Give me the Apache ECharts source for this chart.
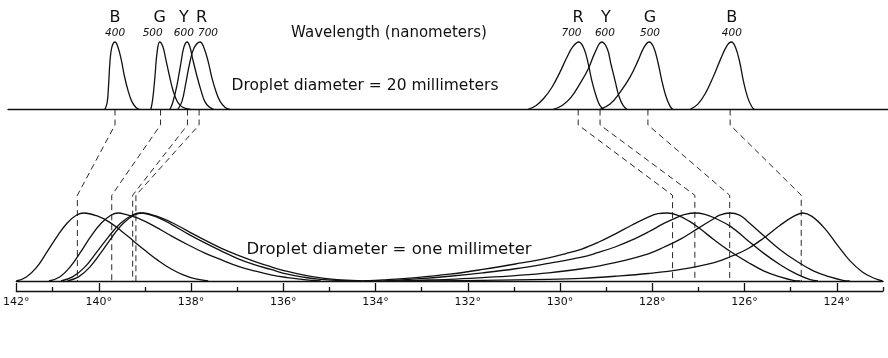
<!DOCTYPE html>
<html><head><meta charset="utf-8">
<script src="https://cdn.jsdelivr.net/npm/echarts@6/dist/echarts.min.js"></script>
<style>html,body{margin:0;padding:0;background:#fff}#c{width:888px;height:358px}</style>
</head><body><div id="c"></div>
<script>
// ---------- DATA (scattering angle in degrees, relative intensity 0..1) ----------
// Droplet diameter = 20 mm, primary bow (left): B, G, Y, R
const d20Primary_B = [[139.75,0],[139.70,0.1],[139.67,0.35],[139.64,0.7],[139.60,0.92],[139.53,1],[139.47,0.93],[139.40,0.75],[139.33,0.5],[139.25,0.28],[139.17,0.12],[139.08,0.03],[139.00,0]];
const d20Primary_G = [[138.76,0],[138.72,0.15],[138.67,0.5],[138.63,0.82],[138.57,1],[138.50,0.93],[138.44,0.75],[138.36,0.5],[138.29,0.3],[138.20,0.13],[138.11,0.05],[138.01,0.015],[137.90,0]];
const d20Primary_Y = [[138.35,0],[138.29,0.1],[138.20,0.35],[138.11,0.7],[138.05,0.92],[137.98,1],[137.92,0.93],[137.86,0.75],[137.77,0.5],[137.68,0.28],[137.60,0.12],[137.51,0.04],[137.40,0]];
const d20Primary_R = [[138.18,0],[138.09,0.12],[138.01,0.38],[137.92,0.7],[137.83,0.91],[137.70,1],[137.62,0.92],[137.53,0.72],[137.45,0.48],[137.36,0.27],[137.27,0.12],[137.16,0.03],[137.06,0]];
// Droplet diameter = 20 mm, secondary bow (right): R, Y, G, B
const d20Secondary_R = [[130.65,0],[130.47,0.06],[130.30,0.17],[130.13,0.33],[129.96,0.55],[129.81,0.77],[129.68,0.93],[129.55,1],[129.44,0.9],[129.35,0.68],[129.27,0.42],[129.18,0.2],[129.10,0.06],[129.01,0]];
const d20Secondary_Y = [[130.11,0],[129.91,0.06],[129.72,0.18],[129.53,0.38],[129.35,0.6],[129.20,0.85],[129.06,1],[128.94,0.9],[128.86,0.67],[128.77,0.42],[128.69,0.2],[128.60,0.06],[128.51,0]];
const d20Secondary_G = [[129.10,0],[128.88,0.08],[128.67,0.25],[128.45,0.48],[128.28,0.72],[128.15,0.92],[128.04,1],[127.94,0.92],[127.85,0.7],[127.77,0.44],[127.68,0.2],[127.59,0.05],[127.53,0]];
const d20Secondary_B = [[127.16,0],[126.99,0.08],[126.82,0.25],[126.65,0.5],[126.50,0.75],[126.37,0.94],[126.27,1],[126.18,0.92],[126.09,0.7],[126.01,0.42],[125.92,0.18],[125.83,0.04],[125.77,0]];

// Droplet diameter = one millimeter, primary bow
const d1Primary_B = [[141.79,0],[141.57,0.06],[141.35,0.2],[141.13,0.42],[140.91,0.65],[140.69,0.85],[140.48,0.97],[140.32,1],[140.05,0.96],[139.78,0.87],[139.52,0.74],[139.25,0.59],[138.98,0.44],[138.71,0.3],[138.44,0.18],[138.17,0.09],[137.90,0.03],[137.63,0]];
const d1Primary_G = [[141.08,0],[140.85,0.06],[140.63,0.2],[140.40,0.42],[140.18,0.65],[139.95,0.85],[139.73,0.97],[139.58,1],[139.42,0.98],[139.14,0.92],[138.78,0.8],[138.42,0.66],[138.06,0.53],[137.70,0.41],[137.34,0.31],[136.99,0.22],[136.63,0.15],[136.27,0.09],[135.91,0.05],[135.55,0.02],[135.19,0]];
const d1Primary_Y = [[140.82,0],[140.57,0.06],[140.31,0.2],[140.05,0.42],[139.79,0.65],[139.53,0.85],[139.27,0.97],[139.10,1],[138.78,0.95],[138.42,0.83],[138.06,0.69],[137.70,0.56],[137.34,0.44],[136.99,0.33],[136.63,0.24],[136.27,0.17],[135.91,0.1],[135.55,0.055],[135.19,0.025],[134.84,0.01],[134.37,0]];
const d1Primary_R = [[140.68,0],[140.44,0.06],[140.20,0.2],[139.95,0.42],[139.71,0.65],[139.47,0.85],[139.23,0.97],[139.07,1],[138.78,0.96],[138.42,0.86],[138.06,0.73],[137.70,0.6],[137.34,0.48],[136.99,0.38],[136.63,0.29],[136.27,0.21],[135.91,0.14],[135.55,0.085],[135.19,0.045],[134.84,0.02],[134.37,0.005],[133.90,0]];
// Droplet diameter = one millimeter, secondary bow
const d1Secondary_R = [[134.26,0],[133.83,0.015],[133.12,0.05],[132.40,0.1],[131.68,0.17],[130.97,0.25],[130.25,0.34],[129.89,0.4],[129.53,0.47],[129.17,0.57],[128.81,0.69],[128.45,0.82],[128.09,0.94],[127.88,0.99],[127.68,1],[127.46,0.97],[127.20,0.88],[126.95,0.76],[126.67,0.61],[126.30,0.43],[125.94,0.28],[125.59,0.15],[125.23,0.06],[124.95,0.01],[124.80,0]];
const d1Secondary_Y = [[133.83,0],[133.12,0.03],[132.40,0.07],[131.68,0.12],[130.97,0.18],[130.25,0.26],[129.53,0.35],[129.17,0.42],[128.81,0.5],[128.45,0.6],[128.09,0.72],[127.74,0.85],[127.45,0.94],[127.29,0.98],[127.07,1],[126.86,0.98],[126.66,0.93],[126.30,0.8],[125.94,0.6],[125.59,0.41],[125.23,0.24],[124.87,0.1],[124.58,0.02],[124.41,0]];
const d1Secondary_G = [[133.62,0],[133.12,0.01],[132.40,0.025],[131.68,0.05],[130.97,0.08],[130.25,0.12],[129.53,0.18],[128.81,0.27],[128.09,0.4],[127.74,0.5],[127.38,0.62],[127.02,0.77],[126.66,0.92],[126.54,0.97],[126.32,1],[126.11,0.97],[125.94,0.88],[125.59,0.67],[125.23,0.46],[124.87,0.29],[124.51,0.15],[124.15,0.06],[123.87,0.01],[123.72,0]];
const d1Secondary_B = [[132.97,0],[131.68,0.01],[130.25,0.025],[129.53,0.04],[128.81,0.07],[128.09,0.11],[127.38,0.17],[126.66,0.27],[126.30,0.36],[125.94,0.47],[125.59,0.63],[125.23,0.82],[124.94,0.95],[124.74,1],[124.54,0.95],[124.26,0.77],[123.98,0.52],[123.72,0.3],[123.44,0.13],[123.19,0.04],[123.01,0]];

// Peak labels of the 20 mm curves (colour letters and wavelengths in nm)
const letterAngles    = [139.53, 138.57, 138.05, 137.67, 129.57, 128.97, 128.02, 126.26];
const peakLetters     = ['B','G','Y','R','R','Y','G','B'];
const wavelengthAngles = [139.53, 138.72, 138.05, 137.53, 129.71, 128.99, 128.02, 126.26];
const peakWavelengths = ['400','500','600','700','700','600','500','400'];

// Dashed connectors: peak angle for 20 mm drops -> peak angle for 1 mm drops
const connTopAngles    = [139.53, 138.55, 137.97, 137.72, 129.56, 129.09, 128.06, 126.29];
const connBottomAngles = [140.34, 139.60, 139.15, 139.08, 127.53, 127.05, 126.30, 124.76];

// Axis ticks
const majorTickValues = [141.79, 140, 138, 136, 134, 132, 130, 128, 126, 124];
const majorTickLabels = ['142°','140°','138°','136°','134°','132°','130°','128°','126°','124°'];
const minorTickValues = [141, 139, 137, 135, 133, 131, 129, 127, 125, 123];

// ---------- CHART ----------
const INK = '#111111';
const FONT = 'DejaVu Sans';
const AX_MIN = 123.0, AX_MAX = 141.79;
const chart = echarts.init(document.getElementById('c'), null, {renderer: 'canvas'});

function curve(data, xi, yi) {
  return { type: 'line', data: data, xAxisIndex: xi, yAxisIndex: yi, smooth: 0.4,
    showSymbol: false, symbol: 'none', clip: false, silent: true,
    lineStyle: { color: INK, width: 1.3 } };
}

const series = [];
[d20Primary_B, d20Primary_G, d20Primary_Y, d20Primary_R,
 d20Secondary_R, d20Secondary_Y, d20Secondary_G, d20Secondary_B].forEach(d => series.push(curve(d, 0, 0)));
[d1Primary_B, d1Primary_G, d1Primary_Y, d1Primary_R,
 d1Secondary_R, d1Secondary_Y, d1Secondary_G, d1Secondary_B].forEach(d => series.push(curve(d, 1, 1)));

// connectors in overlay grid (y: 1 = top baseline, 0 = bottom baseline)
const BEND_TOP = 0.91, BEND_LOW = 0.5;
connTopAngles.forEach((t, i) => {
  const b = connBottomAngles[i];
  series.push({ type: 'line', xAxisIndex: 4, yAxisIndex: 2, showSymbol: false, symbol: 'none',
    clip: false, silent: true, smooth: false,
    data: [[t, 1], [t, BEND_TOP], [b, BEND_LOW], [b, 0]],
    lineStyle: { color: INK, width: 0.9, type: [6, 4] } });
});

function labelSeries(angles, texts, distance, textStyle) {
  return { type: 'scatter', xAxisIndex: 0, yAxisIndex: 0, symbolSize: 0, silent: true,
    itemStyle: { color: INK, opacity: 1 },
    data: angles.map((a, i) => ({ value: [a, 1], name: texts[i] })),
    label: Object.assign({ show: true, position: 'top', distance: distance, color: INK, opacity: 1,
      fontFamily: FONT, formatter: p => p.name }, textStyle),
    emphasis: { disabled: true } };
}
series.push(labelSeries(letterAngles, peakLetters, 16, { fontSize: 16 }));
series.push(labelSeries(wavelengthAngles, peakWavelengths, 3, { fontSize: 10.5, fontStyle: 'italic' }));

const hidden = { show: false };
const option = {
  animation: false,
  backgroundColor: '#fff',
  grid: [
    { left: 8, right: 0, top: 42, bottom: 248.5 },        // 20 mm panel
    { left: 10, right: 5, top: 213, bottom: 77 },         // 1 mm panel
    { left: 10, right: 5, top: 109.5, bottom: 77 }        // connector overlay
  ],
  xAxis: [
    { gridIndex: 0, type: 'value', inverse: true, min: 122.90, max: 141.833, position: 'bottom',
      axisLine: { show: true, lineStyle: { color: INK, width: 1.4 } }, axisTick: hidden, axisLabel: hidden, splitLine: hidden },
    { gridIndex: 1, type: 'value', inverse: true, min: AX_MIN, max: AX_MAX, position: 'bottom', offset: 0,
      axisLine: { show: true, lineStyle: { color: INK, width: 1.3 } }, axisTick: hidden, axisLabel: hidden, splitLine: hidden },
    { gridIndex: 1, type: 'value', inverse: true, min: AX_MIN, max: AX_MAX, position: 'bottom', offset: 10,
      axisLine: { show: true, lineStyle: { color: INK, width: 1.3 } },
      axisTick: { show: true, inside: true, length: 8, customValues: majorTickValues, lineStyle: { color: INK, width: 1.3 } },
      axisLabel: { show: true, customValues: majorTickValues, margin: 6, color: INK, fontFamily: FONT, fontSize: 11,
        formatter: v => { const i = majorTickValues.findIndex(t => Math.abs(t - v) < 1e-6); return i >= 0 ? majorTickLabels[i] : ''; } },
      splitLine: hidden },
    { gridIndex: 1, type: 'value', inverse: true, min: AX_MIN, max: AX_MAX, position: 'bottom', offset: 10,
      axisLine: hidden,
      axisTick: { show: true, inside: true, length: 4, customValues: minorTickValues, lineStyle: { color: INK, width: 1.3 } },
      axisLabel: hidden, splitLine: hidden },
    { gridIndex: 2, type: 'value', inverse: true, min: AX_MIN, max: AX_MAX, show: false }
  ],
  yAxis: [
    { gridIndex: 0, type: 'value', min: 0, max: 1, show: false },
    { gridIndex: 1, type: 'value', min: 0, max: 1, show: false },
    { gridIndex: 2, type: 'value', min: 0, max: 1, show: false }
  ],
  graphic: [
    { type: 'text', x: 389, y: 33, silent: true, style: { text: 'Wavelength (nanometers)', font: '15px "DejaVu Sans"', fill: INK, textAlign: 'center', textVerticalAlign: 'middle' } },
    { type: 'text', x: 365, y: 86, silent: true, style: { text: 'Droplet diameter = 20 millimeters', font: '15.5px "DejaVu Sans"', fill: INK, textAlign: 'center', textVerticalAlign: 'middle' } },
    { type: 'text', x: 389, y: 250, silent: true, style: { text: 'Droplet diameter = one millimeter', font: '16.5px "DejaVu Sans"', fill: INK, textAlign: 'center', textVerticalAlign: 'middle' } }
  ],
  series: series
};
chart.setOption(option);
</script></body></html>
